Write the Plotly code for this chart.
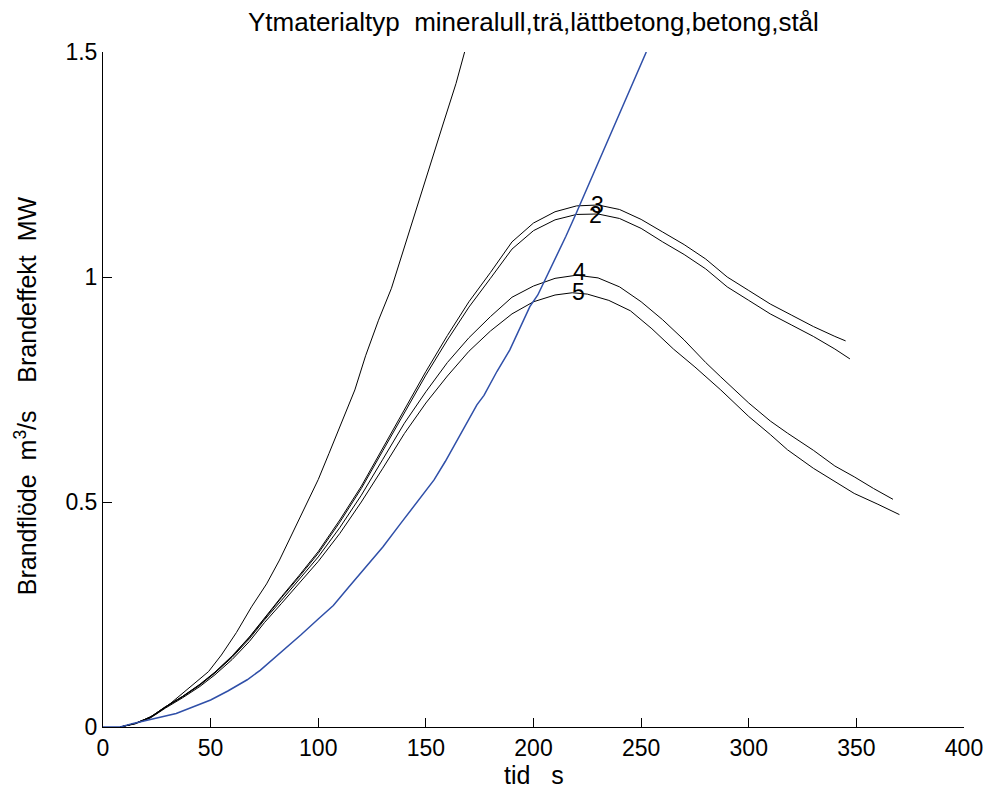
import plotly.graph_objects as go

# Curve 1 (steep black, mineralull)
t1 = [8, 15, 20, 25, 30, 35, 42, 49, 55, 62, 69, 76, 82, 88, 94, 100, 105, 111, 117, 122, 128, 134, 141, 146, 151.5, 158, 164, 168]
y1 = [0, 0.008, 0.018, 0.03, 0.047, 0.067, 0.094, 0.123, 0.16, 0.21, 0.267, 0.318, 0.371, 0.43, 0.49, 0.55, 0.608, 0.68, 0.749, 0.825, 0.904, 0.975, 1.082, 1.16, 1.245, 1.34, 1.43, 1.5]

# Curves 3 and 2
t3 = [8, 15, 22, 29, 37, 45, 52, 60, 68, 75, 83, 91, 100, 110, 120, 130, 140, 150, 160, 170, 180, 190, 200, 210, 220, 230, 240, 250, 260, 270, 280, 290, 300, 310, 320, 330, 340, 345]
y3 = [0, 0.008, 0.022, 0.045, 0.068, 0.095, 0.122, 0.158, 0.2, 0.243, 0.29, 0.336, 0.39, 0.46, 0.535, 0.62, 0.705, 0.79, 0.87, 0.945, 1.01, 1.078, 1.12, 1.145, 1.158, 1.16, 1.15, 1.128, 1.1, 1.072, 1.04, 1.0, 0.97, 0.94, 0.915, 0.89, 0.868, 0.858]

t2 = [8, 15, 22, 29, 37, 45, 52, 60, 68, 75, 83, 91, 100, 110, 120, 130, 140, 150, 160, 170, 180, 190, 200, 210, 220, 230, 240, 250, 260, 270, 280, 290, 300, 310, 320, 330, 340, 347]
y2 = [0, 0.008, 0.022, 0.045, 0.068, 0.094, 0.121, 0.157, 0.199, 0.241, 0.288, 0.333, 0.386, 0.455, 0.53, 0.614, 0.698, 0.782, 0.86, 0.933, 0.997, 1.062, 1.103, 1.127, 1.139, 1.14, 1.13, 1.108, 1.078, 1.05, 1.018, 0.978, 0.948, 0.918, 0.893, 0.868, 0.84, 0.818]

# Curves 4 and 5
t4 = [8, 15, 22, 29, 37, 45, 52, 60, 68, 75, 83, 91, 100, 110, 120, 130, 140, 150, 160, 170, 180, 190, 200, 210, 220, 230, 240, 250, 260, 270, 280, 287, 300, 310, 318, 330, 340, 349, 358, 367]
y4 = [0, 0.008, 0.021, 0.044, 0.067, 0.093, 0.12, 0.155, 0.196, 0.238, 0.282, 0.326, 0.378, 0.443, 0.515, 0.595, 0.675, 0.745, 0.81, 0.865, 0.912, 0.955, 0.98, 0.997, 1.004, 0.998, 0.978, 0.945, 0.905, 0.86, 0.81, 0.778, 0.72, 0.68, 0.653, 0.615, 0.58, 0.556, 0.53, 0.506]

t5 = [8, 15, 22, 29, 37, 45, 52, 60, 68, 75, 83, 91, 100, 110, 120, 130, 140, 150, 160, 170, 180, 190, 200, 210, 218, 225, 235, 245, 255, 265, 275, 287, 300, 310, 318, 330, 340, 349, 360, 370]
y5 = [0, 0.007, 0.02, 0.042, 0.065, 0.09, 0.116, 0.15, 0.19, 0.232, 0.275, 0.318, 0.368, 0.43, 0.5, 0.575, 0.652, 0.72, 0.78, 0.835, 0.88, 0.918, 0.945, 0.96, 0.965, 0.962, 0.948, 0.925, 0.885, 0.84, 0.8, 0.749, 0.69, 0.65, 0.616, 0.575, 0.545, 0.519, 0.495, 0.472]

# Blue curve (Brandflöde)
tb = [0, 8, 14, 20, 27, 34, 42, 50, 58, 67, 73, 78.5, 85, 92, 100, 107, 114, 121.5, 130, 138.4, 146, 153.8, 159, 164.5, 169, 173.7, 177, 183, 189, 194, 198.3, 202, 206, 210.6, 215, 219.8, 226, 233.5, 240, 246, 252.4]
yb = [0, 0, 0.008, 0.015, 0.022, 0.03, 0.045, 0.06, 0.08, 0.105, 0.126, 0.149, 0.175, 0.205, 0.24, 0.27, 0.31, 0.353, 0.4, 0.453, 0.5, 0.549, 0.59, 0.638, 0.675, 0.716, 0.737, 0.79, 0.838, 0.89, 0.934, 0.96, 1.0, 1.045, 1.09, 1.141, 1.21, 1.29, 1.365, 1.43, 1.5]

# Curve labels
label_text = ["3", "2", "4", "5"]
label_t = [229.5, 229, 221.2, 220.7]
label_y = [1.16, 1.138, 1.011, 0.967]

x_ticks = [0, 50, 100, 150, 200, 250, 300, 350, 400]
y_ticks = [0, 0.5, 1, 1.5]
y_tick_text = ["0", "0.5", "1", "1.5"]

FONT = "Arial, Liberation Sans, sans-serif"

fig = go.Figure()
for tx, ty in [(t1, y1), (t3, y3), (t2, y2), (t4, y4), (t5, y5)]:
    fig.add_trace(go.Scatter(x=tx, y=ty, mode="lines",
                             line=dict(color="black", width=1), showlegend=False))
fig.add_trace(go.Scatter(x=tb, y=yb, mode="lines",
                         line=dict(color="#2f4fa8", width=1.5), showlegend=False))

for txt, lx, ly in zip(label_text, label_t, label_y):
    fig.add_annotation(x=lx, y=ly, text=txt, showarrow=False,
                       font=dict(family=FONT, size=23, color="black"),
                       xanchor="center", yanchor="middle")

fig.add_annotation(xref="paper", yref="paper", x=0.5, y=1, yshift=30,
                   text="Ytmaterialtyp  mineralull,trä,lättbetong,betong,stål",
                   showarrow=False, font=dict(family=FONT, size=26, color="black"),
                   xanchor="center", yanchor="middle")
fig.add_annotation(xref="paper", yref="paper", x=0.5, y=0, yshift=-48,
                   text="tid   s", showarrow=False,
                   font=dict(family=FONT, size=25, color="black"),
                   xanchor="center", yanchor="middle")
fig.add_annotation(xref="paper", yref="paper", x=0, xshift=-77, y=0.49,
                   text="Brandflöde  m<sup>3</sup>/s    Brandeffekt  MW", textangle=-90,
                   showarrow=False, font=dict(family=FONT, size=25, color="black"),
                   xanchor="center", yanchor="middle")

fig.update_layout(
    width=995, height=794,
    margin=dict(l=103, r=24, t=52, b=67),
    paper_bgcolor="white", plot_bgcolor="white",
    font=dict(family=FONT, size=22, color="black"),
    showlegend=False,
)
fig.update_xaxes(range=[0, 400], tickvals=x_ticks, ticks="inside", ticklen=9,
                 tickcolor="black", showline=True, linecolor="black", linewidth=1,
                 showgrid=False, zeroline=False, tickfont=dict(size=23))
fig.update_yaxes(range=[0, 1.5], tickvals=y_ticks, ticktext=y_tick_text,
                 ticks="inside", ticklen=9, tickcolor="black",
                 showline=True, linecolor="black", linewidth=1,
                 showgrid=False, zeroline=False, tickfont=dict(size=23))

fig.write_html("out.html")
